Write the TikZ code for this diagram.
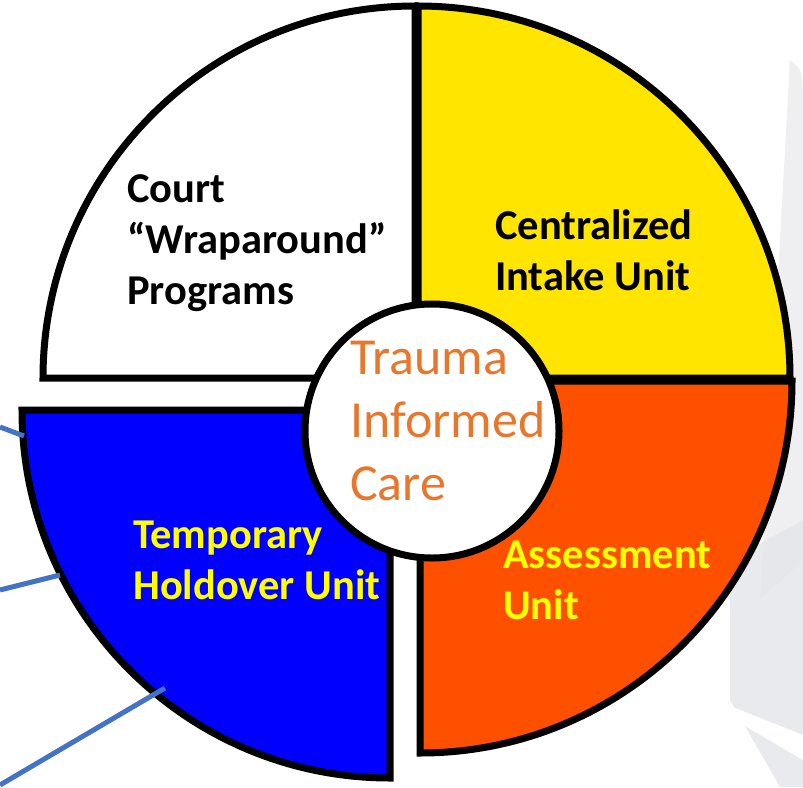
\documentclass[tikz,border=0pt]{standalone}
\usepackage{fontspec}
\setmainfont{Carlito}
\definecolor{secyellow}{HTML}{FFE500}
\definecolor{secorange}{HTML}{FF5000}
\definecolor{secblue}{HTML}{0000FF}
\definecolor{txtyellow}{HTML}{FFFF00}
\definecolor{tic}{HTML}{E8772E}
\definecolor{linkblue}{HTML}{4472C4}
\definecolor{bggray}{HTML}{E4E5E8}
\begin{document}
\begin{tikzpicture}[x=1pt,y=-1pt,
  sector/.style={draw=black,line width=7pt,line join=miter},
  lbl/.style={font=\fontsize{42.5}{51}\selectfont\bfseries,align=left,anchor=west,inner sep=0pt},
  link/.style={draw=linkblue,line width=5pt},
  ctr/.style={font=\fontsize{52}{63}\selectfont,align=left,anchor=west,inner sep=0pt}]
\useasboundingbox (0,0) rectangle (803,787);
% faint background
\fill[bggray,opacity=0.6] (790,60) .. controls (803,70) .. (803,120) -- (803,560) -- (760,600) -- cycle;
\fill[bggray,opacity=0.8] (730,560) -- (803,520) -- (803,787) -- (780,787) -- (730,700) -- cycle;
\fill[white] (715,700) -- (803,735) -- (803,760) -- (735,720) -- cycle;
% sectors
\filldraw[sector,fill=white] (415,378) -- (43,378) arc[start angle=180,end angle=270,radius=372] -- cycle;
\filldraw[sector,fill=secyellow] (418,378) -- (418,6) arc[start angle=270,end angle=360,radius=372] -- cycle;
\filldraw[sector,fill=secorange] (420,381) -- (792,381) arc[start angle=0,end angle=90,radius=372] -- cycle;
\filldraw[sector,fill=secblue] (390,410) -- (390,778) arc[start angle=90,end angle=180,radius=368] -- cycle;
% links
\coordinate (l1a) at (0,427); \coordinate (l1b) at (24,436);
\coordinate (l2a) at (0,590); \coordinate (l2b) at (60,575);
\coordinate (l3a) at (0,785); \coordinate (l3b) at (165,688);
\draw[link] (l1a) -- (l1b);
\draw[link] (l2a) -- (l2b);
\draw[link] (l3a) -- (l3b);
% centre
\node[circle,draw=black,fill=white,line width=7pt,minimum size=254pt,inner sep=0pt] (hub) at (432,431) {};
\node[ctr,text=tic] (tcare) at (350,421) {Trauma\\Informed\\Care};
% labels
\node[lbl,text=black] (court) at (127,243) {Court\\“Wraparound”\\Programs};
\node[lbl,text=black] (intake) at (495,250) {Centralized\\Intake Unit};
\node[lbl,text=txtyellow] (assess) at (503,580) {Assessment\\Unit};
\node[lbl,text=txtyellow] (hold) at (133,560) {Temporary\\Holdover Unit};
\end{tikzpicture}
\end{document}
